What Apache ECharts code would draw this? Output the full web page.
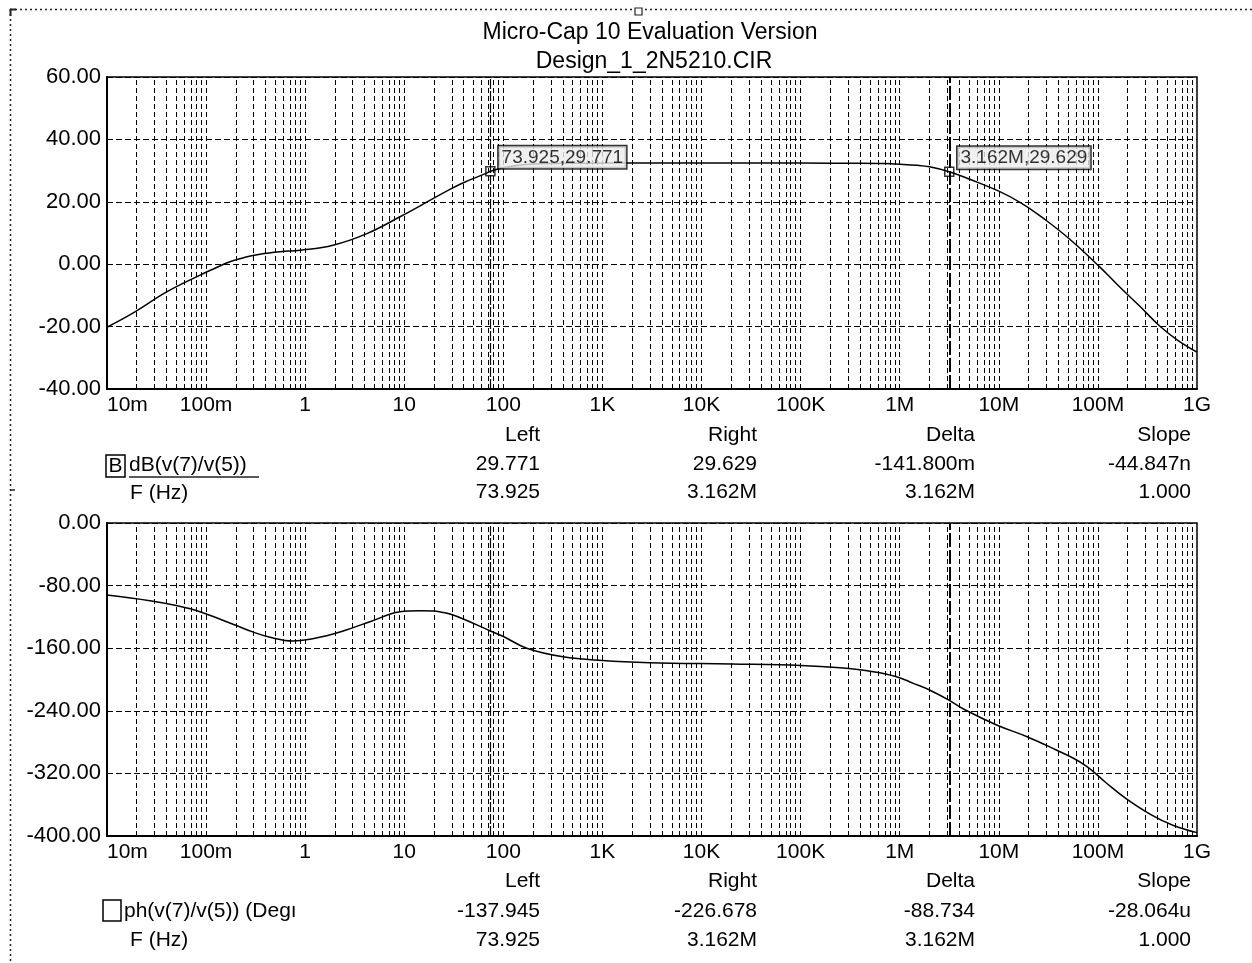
<!DOCTYPE html>
<html><head><meta charset="utf-8">
<script src="https://cdn.jsdelivr.net/npm/echarts@6/dist/echarts.min.js"></script>
<style>html,body{margin:0;padding:0;background:#fff}#c{width:1252px;height:963px}</style>
</head><body><div id="c"></div>
<script>
// ---------- data ----------
const titleLines = ['Micro-Cap 10 Evaluation Version', 'Design_1_2N5210.CIR'];
const xTickLabels = ['10m','100m','1','10','100','1K','10K','100K','1M','10M','100M','1G'];
const gridMultipliers = [1,2,3,4,5,6,7,8,9];
const gridDecades = [-2,-1,0,1,2,3,4,5,6,7,8];

const gainFreq = [0.01,0.0184,0.04,0.087,0.123,0.174,0.247,0.35,0.557,0.89,1.91,4.2,9.05,19.7,28.9,40,67,73.925,100,150,250,500,1000,1e4,1e5,4e5,7e5,1e6,1.5e6,2e6,3.162e6,5e6,1e7,1.7e7,2.9e7,5.2e7,1e8,1.67e8,2.65e8,4.2e8,6.4e8,1e9];
const gainDb   = [-20.2,-15.6,-8.9,-3.5,-1.3,0.8,2.2,3.2,4.0,4.5,6.1,9.8,15.2,21.1,24.0,26.2,29.1,29.771,30.9,31.8,32.2,32.35,32.4,32.4,32.4,32.35,32.25,32.05,31.7,31.2,29.629,27.3,23.4,19.5,14.4,8.0,-0.3,-7.4,-13.5,-19.8,-24.4,-28.2];

const phaseFreq = [0.01,0.0272,0.05,0.0868,0.196,0.3,0.442,0.753,1.118,1.908,3,4.51,9.05,14.4,20,25,30,40,73.925,100,172,400,1000,3000,2e4,1e5,2.5e5,5.4e5,9.3e5,1.37e6,2e6,3.162e6,4.6e6,9.5e6,1.93e7,3.8e7,5.6e7,7.7e7,9.8e7,1.2e8,1.91e8,3.35e8,5.78e8,1e9];
const phaseDeg  = [-92,-99.3,-105.5,-113.4,-130.4,-139.5,-146.1,-150.8,-148.6,-141.9,-134,-126.1,-113.4,-112.0,-112.6,-114.5,-117,-123,-137.945,-145,-160,-171,-175.8,-178.5,-180.2,-182,-185,-190,-196.4,-204.9,-213.4,-226.678,-239,-258.1,-273.1,-290.1,-300.3,-310.9,-321.8,-331.6,-352,-372,-386.6,-395.7];

const gainAxis = {min: -40, max: 60, interval: 20};
const phaseAxis = {min: -400, max: 0, interval: 80};

const cursorFreq = [73.925, 3162000];
const cursorFreqText = ['73.925', '3.162M'];
const cursorGain = [29.771, 29.629];

const tableHeaders = ['Left','Right','Delta','Slope'];
const gainRow = ['29.771','29.629','-141.800m','-44.847n'];
const gainFreqRow = ['73.925','3.162M','3.162M','1.000'];
const phaseRow = ['-137.945','-226.678','-88.734','-28.064u'];
const phaseFreqRow = ['73.925','3.162M','3.162M','1.000'];
const gainName = 'dB(v(7)/v(5))';
const phaseName = 'ph(v(7)/v(5)) (Degı';
const freqName = 'F (Hz)';

// ---------- chart ----------
const FONT = '"Liberation Sans", Arial, sans-serif';
const lg = Math.log10;
const gridLines = [];
gridDecades.forEach(d => gridMultipliers.forEach(m => {
  if (d === -2 && m === 1) return;
  gridLines.push({xAxis: lg(m * Math.pow(10, d))});
}));
const cursorLines = [
  {xAxis: lg(cursorFreq[0]), lineStyle: {type: [10, 2], width: 1.2, color: '#000'}},
  {xAxis: lg(cursorFreq[1]), lineStyle: {type: [14, 3], width: 2, color: '#000'}}
];
function markLines() {
  return {
    silent: true, symbol: ['none','none'], animation: false,
    label: {show: false}, emphasis: {disabled: true},
    lineStyle: {type: [5, 3], color: '#000', width: 1},
    data: gridLines.concat(cursorLines)
  };
}
function xAx(gi) {
  return {
    type: 'value', gridIndex: gi, min: -2, max: 9, interval: 1,
    axisLine: {show: true, onZero: false, lineStyle: {color: '#000', width: 2}},
    axisTick: {show: false}, splitLine: {show: false},
    axisLabel: {
      color: '#000', fontFamily: FONT, fontSize: 21, margin: 6,
      alignMinLabel: 'left', showMinLabel: true, showMaxLabel: true,
      formatter: v => xTickLabels[Math.round(v) + 2]
    }
  };
}
function yAx(gi, cfg) {
  return {
    type: 'value', gridIndex: gi, min: cfg.min, max: cfg.max, interval: cfg.interval,
    axisLine: {show: true, onZero: false, lineStyle: {color: '#000', width: 2}},
    axisTick: {show: false},
    splitLine: {show: true, lineStyle: {type: [6, 3], color: '#000', width: 1}},
    axisLabel: {color: '#000', fontFamily: FONT, fontSize: 22, margin: 6, formatter: v => v.toFixed(2)}
  };
}

const graphics = [];
function txt(text, x, y, align, size) {
  graphics.push({type: 'text', silent: true, style: {text, x, y, fill: '#000', font: (size || 21) + 'px ' + FONT, align: align || 'right', verticalAlign: 'middle'}});
}
function ln(x1, y1, x2, y2, w, dash) {
  graphics.push({type: 'line', silent: true, shape: {x1, y1, x2, y2}, style: {stroke: '#222', lineWidth: w || 1, lineDash: dash || null}});
}
// frame
ln(10, 9.5, 1252, 9.5, 1.5, [2, 3]);
ln(10.5, 9, 10.5, 963, 1.5, [2, 3]);
ln(10, 9.5, 16, 9.5, 2);
ln(10.5, 9, 10.5, 16, 2);
ln(10, 490, 15, 490, 1.5);
graphics.push({type: 'rect', silent: true, shape: {x: 635, y: 8, width: 7, height: 7}, style: {fill: '#fff', stroke: '#222', lineWidth: 1.2}});
// titles
txt(titleLines[0], 650, 33, 'center', 23);
txt(titleLines[1], 654, 62, 'center', 23);
// tables
const colX = [540, 757, 975, 1191];
function table(yH, y1, y2, row1, row2) {
  tableHeaders.forEach((h, i) => txt(h, colX[i], yH));
  row1.forEach((v, i) => txt(v, colX[i], y1));
  row2.forEach((v, i) => txt(v, colX[i], y2));
}
table(435, 464, 492, gainRow, gainFreqRow);
table(881, 911, 940, phaseRow, phaseFreqRow);
graphics.push({type: 'rect', silent: true, shape: {x: 106, y: 455, width: 19, height: 22}, style: {fill: 'none', stroke: '#000', lineWidth: 1.5}});
txt('B', 115.5, 466, 'center', 21);
txt(gainName, 129, 465, 'left', 21);
ln(129, 477, 259, 477, 1.5);
txt(freqName, 130, 493, 'left', 21);
graphics.push({type: 'rect', silent: true, shape: {x: 103, y: 900, width: 18, height: 21}, style: {fill: 'none', stroke: '#000', lineWidth: 1.5}});
txt(phaseName, 124, 911, 'left', 21);
txt(freqName, 130, 940, 'left', 21);

const option = {
  animation: false,
  backgroundColor: '#fff',
  grid: [
    {left: 107, top: 77, width: 1090, height: 312, show: true, borderColor: '#000', borderWidth: 1.5, backgroundColor: 'transparent'},
    {left: 107, top: 523, width: 1090, height: 313, show: true, borderColor: '#000', borderWidth: 1.5, backgroundColor: 'transparent'}
  ],
  xAxis: [xAx(0), xAx(1)],
  yAxis: [yAx(0, gainAxis), yAx(1, phaseAxis)],
  series: [
    {type: 'line', xAxisIndex: 0, yAxisIndex: 0, smooth: 0.4, symbol: 'none',
     lineStyle: {color: '#000', width: 1.5},
     data: gainFreq.map((f, i) => [lg(f), gainDb[i]]), markLine: markLines()},
    {type: 'line', xAxisIndex: 1, yAxisIndex: 1, smooth: 0.4, symbol: 'none',
     lineStyle: {color: '#000', width: 1.5},
     data: phaseFreq.map((f, i) => [lg(f), phaseDeg[i]]), markLine: markLines()},
    {type: 'scatter', xAxisIndex: 0, yAxisIndex: 0, symbol: 'rect', symbolSize: 9, z: 5,
     itemStyle: {color: 'rgba(255,255,255,0)', borderColor: '#000', borderWidth: 1.5},
     data: cursorFreq.map((f, i) => [lg(f), cursorGain[i]]),
     label: {show: true, position: 'right', distance: 3, offset: [0, -14],
       formatter: p => cursorFreqText[p.dataIndex] + ',' + cursorGain[p.dataIndex].toFixed(3),
       fontFamily: FONT, fontSize: 19, color: '#000', backgroundColor: '#ececec',
       borderColor: '#000', borderWidth: 1.5, padding: [2, 3, 1, 3]}}
  ],
  graphic: graphics
};
echarts.init(document.getElementById('c'), null, {renderer: 'canvas'}).setOption(option);
</script>
</body></html>
